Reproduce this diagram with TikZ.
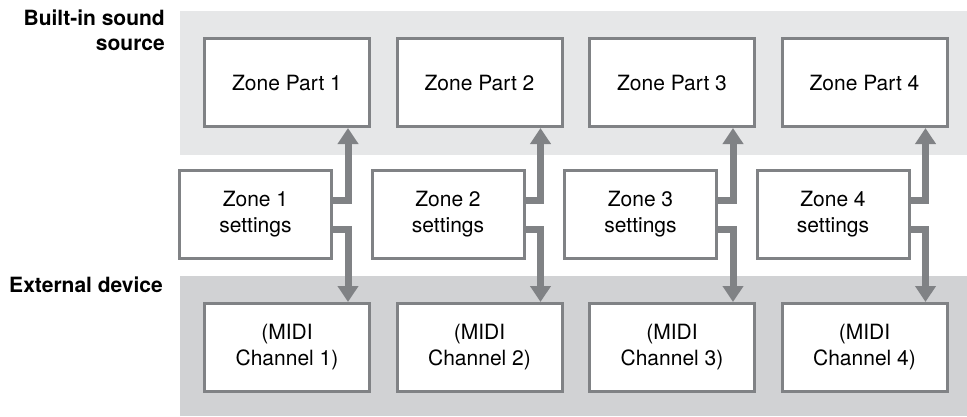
\documentclass[tikz,border=0pt]{standalone}
\usepackage{fontspec}
\setmainfont{TeX Gyre Heros}
\usetikzlibrary{arrows.meta}
\definecolor{bandtop}{HTML}{E6E7E8}
\definecolor{bandbot}{HTML}{D1D2D4}
\definecolor{edgegray}{HTML}{808285}
\tikzset{
  box/.style={draw=edgegray, line width=3pt, fill=white, inner sep=0pt,
    align=center, font=\fontsize{21}{26}\selectfont},
  partbox/.style={box, minimum width=165pt, minimum height=88pt},
  setbox/.style={box, minimum width=152pt, minimum height=88pt},
  flow/.style={draw=edgegray, line width=7pt,
    -{Triangle[width=20pt,length=16pt]}, color=edgegray},
  grouplabel/.style={inner sep=0pt, align=right,
    font=\fontsize{21}{24.5}\selectfont\bfseries}
}
\begin{document}
\begin{tikzpicture}[x=1pt,y=-1pt]
\useasboundingbox (0,0) rectangle (967,416);
% bands
\fill[bandtop] (180,11) rectangle (967,155);
\fill[bandbot] (180,276) rectangle (967,416);
% group labels
\node[grouplabel, anchor=base east] (lblsrc) at (165,50) {Built-in sound\\source};
\node[grouplabel, anchor=base east] (lblext) at (163,292) {External device};
% boxes
\foreach \i in {1,2,3,4} {
  \pgfmathsetmacro{\cx}{287+192.5*(\i-1)}
  \pgfmathsetmacro{\sx}{255.5+192.5*(\i-1)}
  \node[partbox] (p\i) at (\cx,82.5) {Zone Part \i};
  \node[setbox] (s\i) at (\sx,214.5) {Zone \i\\settings};
  \node[partbox] (m\i) at (\cx,347.5) {(MIDI\\Channel \i)};
}
% connectors
\foreach \i in {1,2,3,4} {
  \draw[flow] ([yshift=14.5pt]s\i.east) -| ([xshift=61pt]p\i.south);
  \draw[flow] ([yshift=-15pt]s\i.east) -| ([xshift=61pt]m\i.north);
}
\end{tikzpicture}
\end{document}
